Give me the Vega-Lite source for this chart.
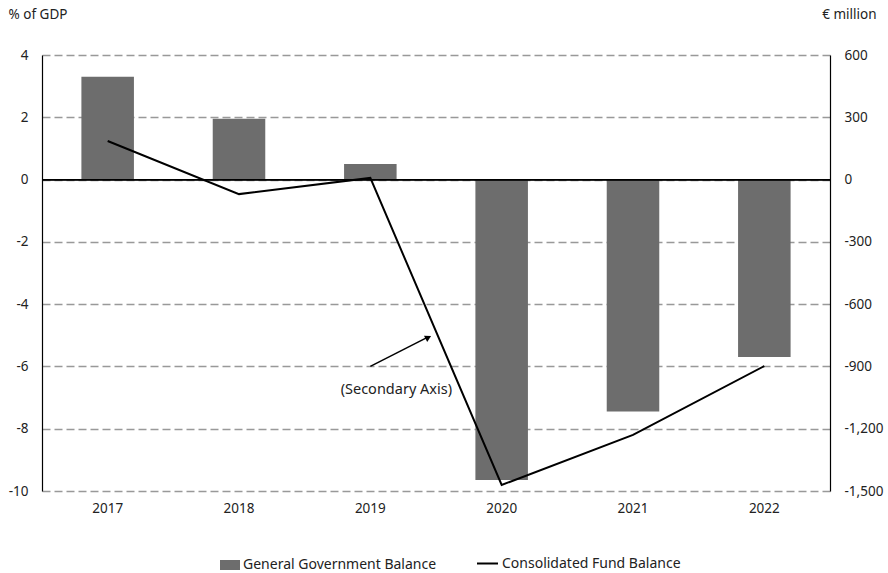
{
  "$schema": "https://vega.github.io/schema/vega-lite/v6.json",
  "width": 788,
  "height": 436,
  "autosize": {"type": "none"},
  "padding": {"left": 42, "top": 55, "right": 58, "bottom": 82},
  "background": "white",
  "config": {
    "font": "Noto Sans",
    "locale": {"number": {"decimal": ".", "thousands": ",", "grouping": [3], "currency": ["€", ""], "minus": "-"}},
    "view": {"stroke": null},
    "axis": {"labelFont": "Noto Sans", "labelFontSize": 13.5, "labelColor": "#222222", "titleFont": "Noto Sans", "titleFontSize": 13.5, "titleFontWeight": "normal", "titleColor": "#222222", "ticks": false},
    "legend": {"labelFont": "Noto Sans", "labelFontSize": 14, "labelColor": "#222222", "labelLimit": 400}
  },
  "data": {
    "values": [
      {"year": "2017", "ggb": 3.3, "cfb": 186},
      {"year": "2018", "ggb": 1.95, "cfb": -70},
      {"year": "2019", "ggb": 0.5, "cfb": 8},
      {"year": "2020", "ggb": -9.65, "cfb": -1471},
      {"year": "2021", "ggb": -7.45, "cfb": -1230},
      {"year": "2022", "ggb": -5.7, "cfb": -898}
    ]
  },
  "encoding": {
    "x": {
      "field": "year", "type": "nominal",
      "scale": {"paddingInner": 0.6, "paddingOuter": 0.3},
      "axis": {"title": null, "labelAngle": 0, "domain": false, "labelPadding": 10, "grid": false}
    }
  },
  "layer": [
    {
      "mark": {"type": "bar", "color": "#6d6d6d"},
      "encoding": {
        "y": {
          "field": "ggb", "type": "quantitative",
          "scale": {"domain": [-10, 4], "nice": false, "zero": false},
          "axis": {"values": [4, 2, 0, -2, -4, -6, -8, -10], "format": "d", "title": "% of GDP", "titleAngle": 0, "titleAlign": "left", "titleBaseline": "middle", "titleX": -34, "titleY": -41, "domain": true, "domainColor": "#000000", "domainWidth": 1.2, "grid": true, "gridColor": "#999999", "gridDash": [8, 4], "gridWidth": 1.5, "labelPadding": 14}
        },
        "fill": {
          "datum": "General Government Balance",
          "scale": {"range": ["#6d6d6d"]},
          "legend": {"title": null, "orient": "none", "legendX": 178, "legendY": 500, "symbolType": "M-1,-0.5H1V0.5H-1Z", "symbolSize": 400, "symbolStrokeWidth": 0, "labelOffset": 3}
        }
      }
    },
    {
      "mark": {"type": "rule", "color": "#000000", "strokeWidth": 1.2},
      "encoding": {
        "x": {"value": 0},
        "x2": {"value": 788},
        "y": {"datum": 0, "type": "quantitative", "scale": {"domain": [-10, 4], "nice": false, "zero": false}, "axis": null}
      }
    },
    {
      "mark": {"type": "line", "color": "#000000", "strokeWidth": 2},
      "encoding": {
        "y": {
          "field": "cfb", "type": "quantitative",
          "scale": {"domain": [-1500, 600], "nice": false, "zero": false},
          "axis": {"orient": "right", "values": [600, 300, 0, -300, -600, -900, -1200, -1500], "format": ",.0f", "title": "€ million", "titleAngle": 0, "titleAlign": "right", "titleBaseline": "middle", "titleX": 46, "titleY": -41, "domain": true, "domainColor": "#000000", "domainWidth": 1.2, "grid": false, "labelPadding": 14}
        },
        "stroke": {
          "datum": "Consolidated Fund Balance",
          "scale": {"range": ["#000000"]},
          "legend": {"title": null, "orient": "none", "legendX": 434, "legendY": 497, "symbolType": "stroke", "symbolSize": 441, "symbolStrokeWidth": 2, "labelOffset": 3}
        }
      }
    },
    {
      "data": {"values": [{"year": "2019", "y": -6.75, "label": "(Secondary Axis)"}]},
      "mark": {"type": "text", "fontSize": 14.5, "color": "#222222", "xOffset": 26, "align": "center", "baseline": "middle"},
      "encoding": {
        "x": {"field": "year", "type": "nominal"},
        "y": {"field": "y", "type": "quantitative", "scale": {"domain": [-10, 4], "nice": false, "zero": false}, "axis": null},
        "text": {"field": "label"}
      }
    },
    {
      "data": {"values": [{"year": "2019", "y": -6.0, "y2": -5.05}]},
      "mark": {"type": "rule", "color": "#000000", "strokeWidth": 1.5, "xOffset": 0, "x2Offset": 58},
      "encoding": {
        "x": {"field": "year", "type": "nominal"},
        "x2": {"field": "year"},
        "y": {"field": "y", "type": "quantitative", "scale": {"domain": [-10, 4], "nice": false, "zero": false}, "axis": null},
        "y2": {"field": "y2"}
      }
    },
    {
      "data": {"values": [{"year": "2019", "y": -5.07}]},
      "mark": {"type": "point", "shape": "triangle-up", "filled": true, "color": "#000000", "size": 50, "angle": 63, "xOffset": 58, "opacity": 1},
      "encoding": {
        "x": {"field": "year", "type": "nominal"},
        "y": {"field": "y", "type": "quantitative", "scale": {"domain": [-10, 4], "nice": false, "zero": false}, "axis": null}
      }
    }
  ],
  "resolve": {"scale": {"y": "independent", "fill": "independent", "stroke": "independent"}}
}
